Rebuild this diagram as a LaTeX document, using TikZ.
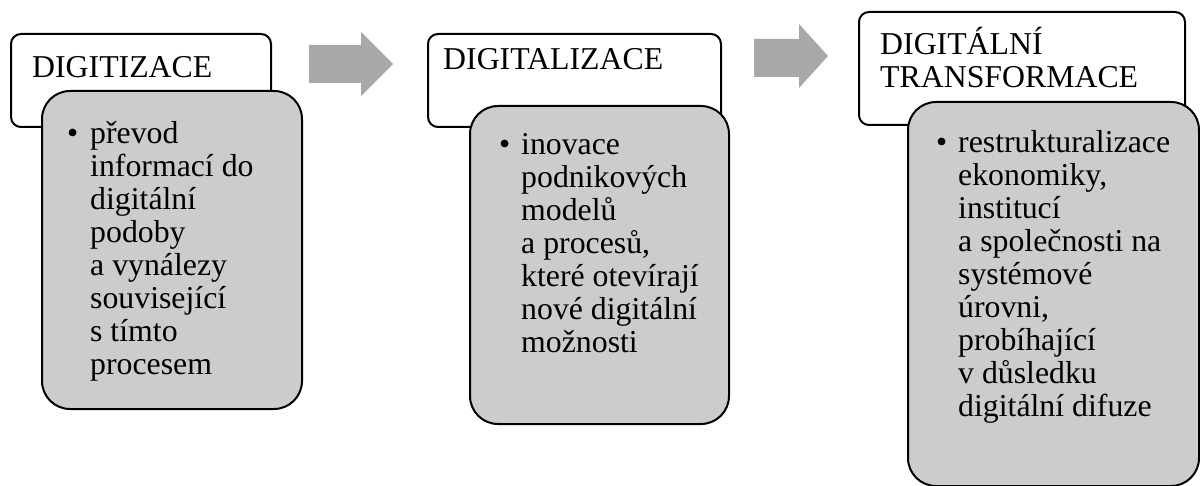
\documentclass[tikz,border=0pt]{standalone}
\usepackage{fontspec}
\setmainfont{Liberation Serif}
\definecolor{boxgrey}{HTML}{CCCCCC}
\definecolor{arrowgrey}{HTML}{A8A8A8}
\newcommand{\bodyfont}{\fontsize{31.8}{33}\selectfont}
\newcommand{\lines}[1]{\parbox[t]{400pt}{\raggedright\bodyfont #1}}
\begin{document}
\begin{tikzpicture}[x=1pt,y=-1pt,
  whitebox/.style={draw=black, line width=2pt, fill=white, rounded corners=10pt, inner sep=0pt, anchor=north west},
  greybox/.style={draw=black, line width=2pt, fill=boxgrey, rounded corners=28pt, inner sep=0pt, anchor=north west},
  txt/.style={anchor=base west, inner sep=0pt, font=\bodyfont},
  bigarrow/.style={fill=arrowgrey, draw=none}]
\useasboundingbox (0,0) rectangle (1200,486);

% box 1
\node[whitebox, minimum width=260pt, minimum height=93pt] (w1) at (10,33) {};
\node[greybox, minimum width=260pt, minimum height=318pt] (g1) at (41,90) {};
\node[txt] (t1) at (32,78) {DIGITIZACE};
\node[txt] (d1) at (67,144) {•};
\node[txt] (l1) at (90,144) {\lines{převod\\informací do\\digitální\\podoby\\a vynálezy\\související\\s tímto\\procesem}};

% box 2
\node[whitebox, minimum width=293pt, minimum height=93pt] (w2) at (427,33) {};
\node[greybox, minimum width=259pt, minimum height=318pt] (g2) at (469,105) {};
\node[txt] (t2) at (443,70) {DIGITALIZACE};
\node[txt] (d2) at (499,155) {•};
\node[txt] (l2) at (521,155) {\lines{inovace\\podnikových\\modelů\\a procesů,\\které otevírají\\nové digitální\\možnosti}};

% box 3
\node[whitebox, minimum width=326pt, minimum height=113pt] (w3) at (858,11) {};
\node[greybox, minimum width=291pt, minimum height=384pt] (g3) at (907,101) {};
\node[txt] (t3) at (880,55) {\lines{DIGITÁLNÍ\\TRANSFORMACE}};
\node[txt] (d3) at (936,153) {•};
\node[txt] (l3) at (958,153) {\lines{restrukturalizace\\ekonomiky,\\institucí\\a společnosti na\\systémové\\úrovni,\\probíhající\\v důsledku\\digitální difuze}};

% arrows
\fill[bigarrow] (309,45) -- (361,45) -- (361,32) -- (393,64) -- (361,96) -- (361,83) -- (309,83) -- cycle;
\fill[bigarrow] (754,39) -- (799,39) -- (799,24) -- (828,56) -- (799,88) -- (799,77) -- (754,77) -- cycle;
\end{tikzpicture}
\end{document}
